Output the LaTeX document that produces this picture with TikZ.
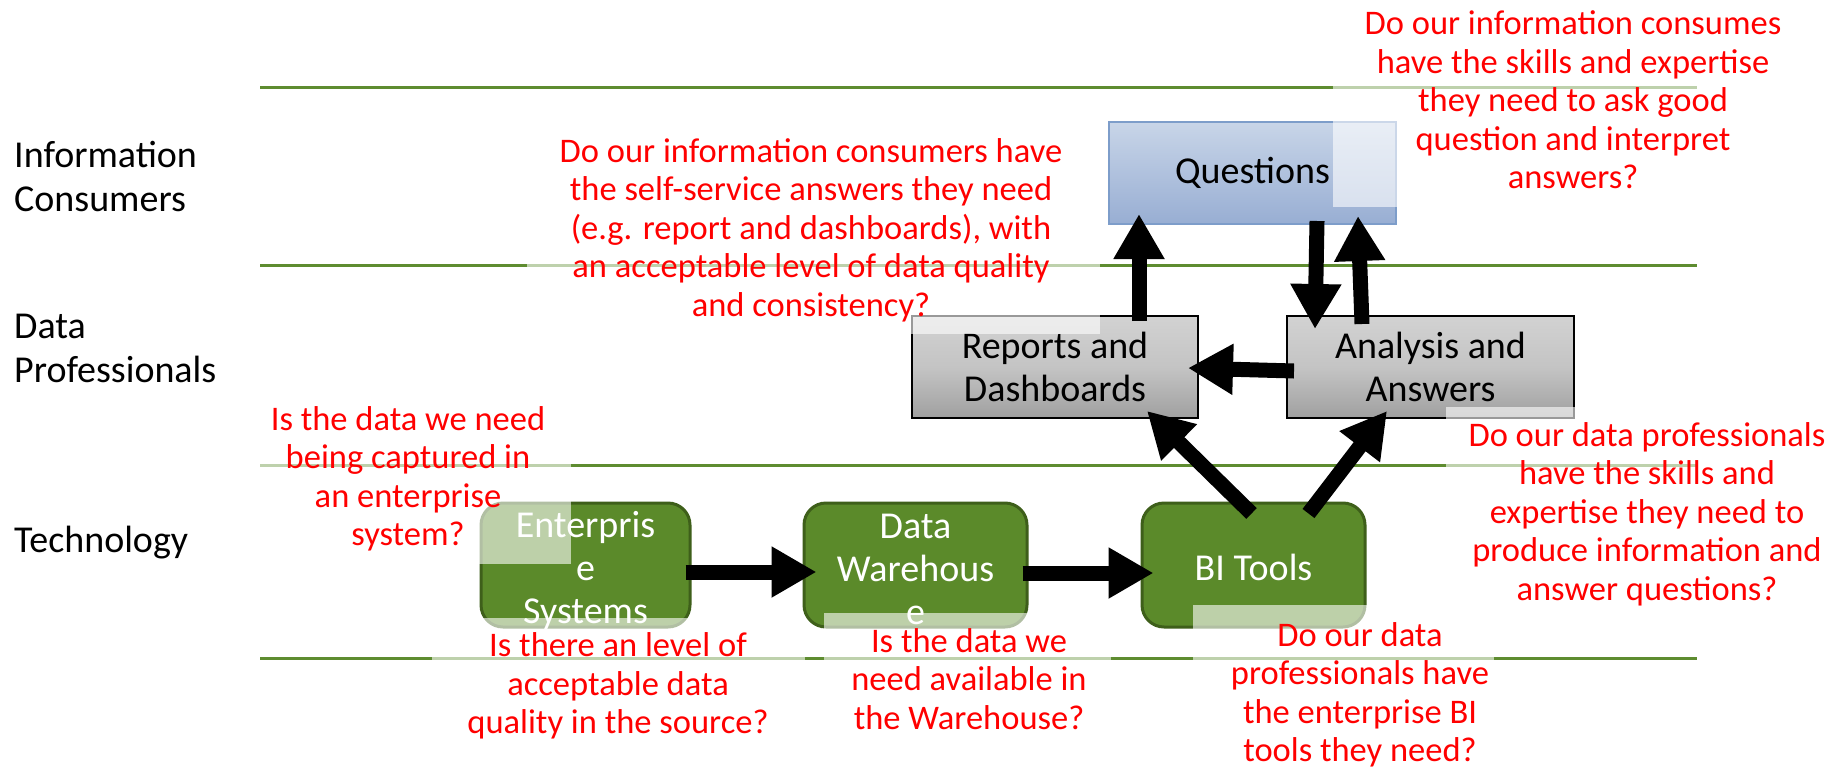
\documentclass[tikz,border=0pt]{standalone}
\usepackage{fontspec}
\setmainfont{Carlito}
\usetikzlibrary{arrows.meta,calc}
\definecolor{lanegreen}{HTML}{5E8C30}
\definecolor{boxgreen}{HTML}{5B8A2A}
\definecolor{boxgreenedge}{HTML}{3E5F1A}
\definecolor{qtop}{HTML}{C8D5E8}
\definecolor{qbot}{HTML}{98AED3}
\definecolor{qedge}{HTML}{7D9DCA}
\definecolor{gtop}{HTML}{D2D2D2}
\definecolor{gmid}{HTML}{C4C4C4}
\definecolor{gbot}{HTML}{A0A0A0}
\definecolor{qred}{HTML}{FF0000}
\begin{document}
\begin{tikzpicture}[x=1pt,y=-1pt,
  lane/.style={draw=lanegreen,line width=3pt},
  greenbox/.style={draw=boxgreenedge,line width=3pt,fill=boxgreen,rounded corners=22pt,inner sep=0pt},
  graybox/.style={draw=black,line width=2pt,top color=gtop,bottom color=gbot,middle color=gmid,inner sep=0pt},
  bluebox/.style={draw=qedge,line width=2pt,top color=qtop,bottom color=qbot,inner sep=0pt},
  boxtext/.style={font=\fontsize{38}{43}\selectfont,align=center,inner sep=0pt},
  lanelabel/.style={font=\fontsize{38}{44}\selectfont,align=left,anchor=west,inner sep=0pt},
  question/.style={font=\fontsize{34.5}{38.5}\selectfont,align=center,text=qred,inner sep=0pt},
  veil/.style={fill=white,fill opacity=0.6},
  bigarrow/.style={line width=15pt,-{Triangle[width=48pt,length=45pt]}},
]
\useasboundingbox (0,0) rectangle (1835,768);
\fill[white] (0,0) rectangle (1835,768);

% swim lanes
\draw[lane] (260,87) -- (1697,87);
\draw[lane] (260,265) -- (1697,265);
\draw[lane] (260,465) -- (1697,465);
\draw[lane] (260,658) -- (1697,658);

% lane labels
\node[lanelabel] (lab1) at (14,176.5) {Information\\Consumers};
\node[lanelabel] (lab2) at (14,348.5) {Data\\Professionals};
\node[lanelabel] (lab3) at (14,543) {Technology};

% boxes
\node[bluebox,minimum width=287pt,minimum height=102pt] (ques) at (1252.5,173) {};
\node[graybox,minimum width=286pt,minimum height=102pt] (rep) at (1055,367) {};
\node[graybox,minimum width=287pt,minimum height=102pt] (ana) at (1430.5,367) {};
\node[greenbox,minimum width=209pt,minimum height=124pt] (ent) at (585.5,565) {};
\node[greenbox,minimum width=223pt,minimum height=124pt] (dw) at (915.5,565) {};
\node[greenbox,minimum width=223pt,minimum height=124pt] (bi) at (1253.5,565) {};

% box texts
\node[boxtext] (quesT) at (ques) {Questions};
\node[boxtext] (repT) at (rep) {Reports and\\Dashboards};
\node[boxtext] (anaT) at (ana) {Analysis and\\Answers};
\node[boxtext,text=white] (entT) at ($(ent)+(0,5)$) {Enterpris\\e\\Systems};
\node[boxtext,text=white] (dwT) at ($(dw)+(0,4)$) {Data\\Warehous\\e};
\node[boxtext,text=white] (biT) at ($(bi)+(0,2)$) {BI Tools};

% arrows
\draw[bigarrow] ($(ent.east)+(-6,7)$) -- ($(dw.west)+(14,7)$);
\draw[bigarrow] ($(dw.east)+(-6,8)$) -- ($(bi.west)+(13,8)$);
\draw[bigarrow] ($(bi.north)+(-2,12)$) -- ($(rep.south east)+(-52,-8)$);
\draw[bigarrow] ($(bi.north)+(55,12)$) -- ($(ana.south west)+(101,-8)$);
\draw[bigarrow] ($(ana.west)+(8,4)$) -- ($(rep.east)+(-11,1)$);
\draw[bigarrow] ($(rep.north)+(84,6)$) -- ($(ques.south)+(-113.5,-11)$);
\draw[bigarrow] ($(ques.south)+(64.5,-4)$) -- ($(ana.north)+(-115.5,14)$);
\draw[bigarrow] ($(ana.north)+(-68.5,9)$) -- ($(ques.south)+(105.5,-9)$);

% translucent text-box backgrounds
\fill[veil] (1333,0) rectangle (1813,207);
\fill[veil] (527,130) rectangle (1100,334);
\fill[veil] (260,395) rectangle (571,564);
\fill[veil] (432,618) rectangle (805,768);
\fill[veil] (824,613) rectangle (1111,768);
\fill[veil] (1193,605) rectangle (1494,768);
\fill[veil] (1446,407) rectangle (1835,610);

% questions
\node[question] (q1) at (1573,100) {Do our information consumes\\have the skills and expertise\\they need to ask good\\question and interpret\\answers?};
\node[question] (q2) at (811,230) {Do our information consumers have\\the self-service answers they need\\(e.g. report and dashboards), with\\an acceptable level of data quality\\and consistency?};
\node[question] (q3) at (408,479) {Is the data we need\\being captured in\\an enterprise\\system?};
\node[question] (q4) at (618,686) {Is there an level of\\acceptable data\\quality in the source?};
\node[question] (q5) at (969,679) {Is the data we\\need available in\\the Warehouse?};
\node[question] (q6) at (1360,695) {Do our data\\professionals have\\the enterprise BI\\tools they need?};
\node[question] (q7) at (1647,514) {Do our data professionals\\have the skills and\\expertise they need to\\produce information and\\answer questions?};
\end{tikzpicture}
\end{document}
